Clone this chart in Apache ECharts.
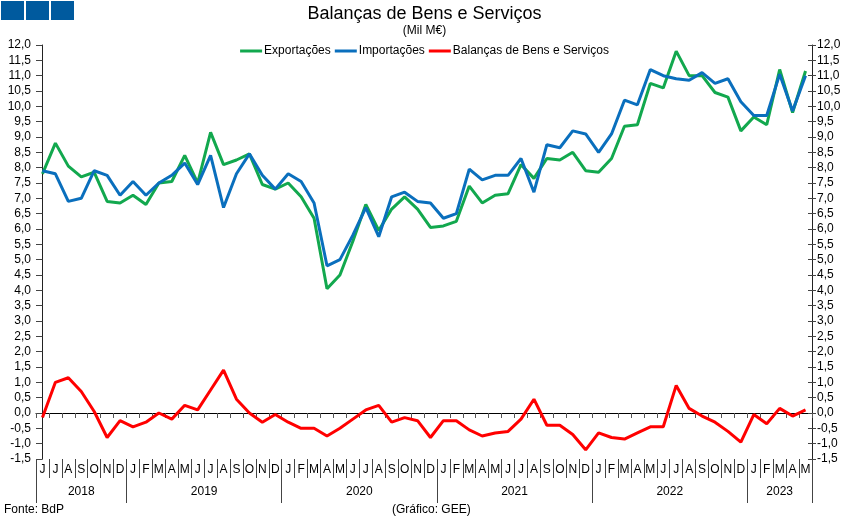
<!DOCTYPE html>
<html>
<head>
<meta charset="utf-8">
<script src="https://cdn.jsdelivr.net/npm/echarts@6/dist/echarts.min.js"></script>
<style>
  html, body { margin: 0; padding: 0; background: #fff; }
  #chart { width: 849px; height: 519px; }
</style>
</head>
<body>
<div id="chart"></div>
<script>
  // meses jun/2018 - mai/2023
  var months = ['J','J','A','S','O','N','D',
    'J','F','M','A','M','J','J','A','S','O','N','D',
    'J','F','M','A','M','J','J','A','S','O','N','D',
    'J','F','M','A','M','J','J','A','S','O','N','D',
    'J','F','M','A','M','J','J','A','S','O','N','D',
    'J','F','M','A','M'];
  var years = ['2018', '2019', '2020', '2021', '2022', '2023'];
  var yearCenters = [3, 12.5, 24.5, 36.5, 48.5, 57];
  var yearBounds = [-0.5, 6.5, 18.5, 30.5, 42.5, 54.5, 59.5];

  var exportacoes = [7.8, 8.8, 8.05, 7.7, 7.85, 6.9, 6.85,
    7.1, 6.8, 7.5, 7.55, 8.4, 7.5, 9.15, 8.1, 8.25, 8.45, 7.45, 7.3,
    7.5, 7.05, 6.35, 4.05, 4.5, 5.6, 6.8, 5.95, 6.65, 7.05, 6.65, 6.05,
    6.1, 6.25, 7.4, 6.85, 7.1, 7.15, 8.1, 7.65, 8.3, 8.25, 8.5, 7.9,
    7.85, 8.3, 9.35, 9.4, 10.75, 10.6, 11.8, 11.0, 11.0, 10.45, 10.3, 9.2,
    9.65, 9.4, 11.2, 9.8, 11.15];
  var importacoes = [7.9, 7.8, 6.9, 7.0, 7.9, 7.75, 7.1,
    7.55, 7.1, 7.5, 7.75, 8.15, 7.45, 8.4, 6.7, 7.8, 8.45, 7.75, 7.3,
    7.8, 7.55, 6.85, 4.8, 5.0, 5.8, 6.7, 5.75, 7.05, 7.2, 6.9, 6.85,
    6.35, 6.5, 7.95, 7.6, 7.75, 7.75, 8.3, 7.2, 8.75, 8.65, 9.2, 9.1,
    8.5, 9.1, 10.2, 10.05, 11.2, 11.0, 10.9, 10.85, 11.1, 10.75, 10.9, 10.15,
    9.7, 9.7, 11.05, 9.85, 11.0];
  var balanca = [-0.15, 1.0, 1.15, 0.7, 0.05, -0.8, -0.25,
    -0.45, -0.3, 0.0, -0.2, 0.25, 0.1, 0.75, 1.4, 0.45, 0.0, -0.3, -0.05,
    -0.3, -0.5, -0.5, -0.75, -0.5, -0.2, 0.1, 0.25, -0.3, -0.15, -0.25, -0.8,
    -0.25, -0.25, -0.55, -0.75, -0.65, -0.6, -0.2, 0.45, -0.4, -0.4, -0.7, -1.2,
    -0.65, -0.8, -0.85, -0.65, -0.45, -0.45, 0.9, 0.15, -0.1, -0.3, -0.6, -0.95,
    -0.05, -0.35, 0.15, -0.1, 0.1];

  var font = 'Liberation Sans, Arial, sans-serif';
  var fmt = function (v) { return v.toFixed(1).replace('.', ','); };

  function yAx(pos, inside, labels, line) {
    return {
      type: 'value', position: pos, min: -1.5, max: 12, interval: 0.5,
      splitLine: { show: false },
      axisLine: { show: line, lineStyle: { color: '#222', width: 1 } },
      axisTick: { show: true, inside: inside, length: 4, lineStyle: { color: '#444' } },
      axisLabel: { show: labels, formatter: fmt, color: '#000', fontSize: 12, fontFamily: font, margin: 5 }
    };
  }

  var chart = echarts.init(document.getElementById('chart'));
  chart.setOption({
    animation: false,
    backgroundColor: '#fff',
    title: {
      text: 'Balanças de Bens e Serviços',
      subtext: '(Mil M€)',
      left: 'center', top: 0, itemGap: 2,
      textStyle: { fontSize: 18, fontWeight: 'normal', color: '#000', fontFamily: font },
      subtextStyle: { fontSize: 12, color: '#000', fontFamily: font }
    },
    legend: {
      top: 40, left: 'center', itemGap: 4, itemWidth: 22, itemHeight: 3,
      icon: 'rect',
      textStyle: { fontSize: 12, color: '#000', fontFamily: font, padding: [0, 0, 0, -3] },
      data: ['Exportações', 'Importações', 'Balanças de Bens e Serviços']
    },
    grid: { left: 36, right: 37, top: 45, bottom: 60 },
    xAxis: [
      {
        type: 'category', data: months,
        axisLine: { onZero: true, onZeroAxisIndex: 0, lineStyle: { color: '#000', width: 1 } },
        axisTick: { show: true, interval: 0, length: 5, lineStyle: { color: '#555' } },
        axisLabel: { show: false }
      },
      {
        type: 'category', data: months, position: 'bottom',
        axisLine: { show: false, onZero: false },
        axisTick: { show: true, interval: 0, length: 19, lineStyle: { color: '#444' } },
        axisLabel: { interval: 0, margin: 5, color: '#000', fontSize: 12, fontFamily: font }
      },
      {
        type: 'value', position: 'bottom', min: -0.5, max: 59.5,
        splitLine: { show: false },
        axisLine: { show: false, onZero: false },
        axisTick: { show: true, customValues: yearBounds, length: 44, lineStyle: { color: '#444' } },
        axisLabel: {
          customValues: yearCenters, margin: 27, color: '#000', fontSize: 12, fontFamily: font,
          formatter: function (v) { return years[yearCenters.indexOf(v)]; }
        }
      }
    ],
    yAxis: [
      yAx('left', false, true, true),
      yAx('left', true, false, false),
      yAx('right', false, true, true),
      yAx('right', true, false, false)
    ],
    graphic: [
      { type: 'rect', left: 1, top: 1, shape: { width: 23, height: 19 }, style: { fill: '#005a9e' } },
      { type: 'rect', left: 26, top: 1, shape: { width: 23, height: 19 }, style: { fill: '#005a9e' } },
      { type: 'rect', left: 51, top: 1, shape: { width: 23, height: 19 }, style: { fill: '#005a9e' } },
      { type: 'text', left: 4, top: 504, style: { text: 'Fonte: BdP', fontSize: 12, fontFamily: font, fill: '#000' } },
      { type: 'text', left: 392, top: 504, style: { text: '(Gráfico: GEE)', fontSize: 12, fontFamily: font, fill: '#000' } }
    ],
    series: [
      { name: 'Exportações', type: 'line', data: exportacoes, symbol: 'none', color: '#12a84e', lineStyle: { width: 3 } },
      { name: 'Importações', type: 'line', data: importacoes, symbol: 'none', color: '#0a6fbd', lineStyle: { width: 3 } },
      { name: 'Balanças de Bens e Serviços', type: 'line', data: balanca, symbol: 'none', color: '#ff0000', lineStyle: { width: 3 } }
    ]
  });
</script>
</body>
</html>
